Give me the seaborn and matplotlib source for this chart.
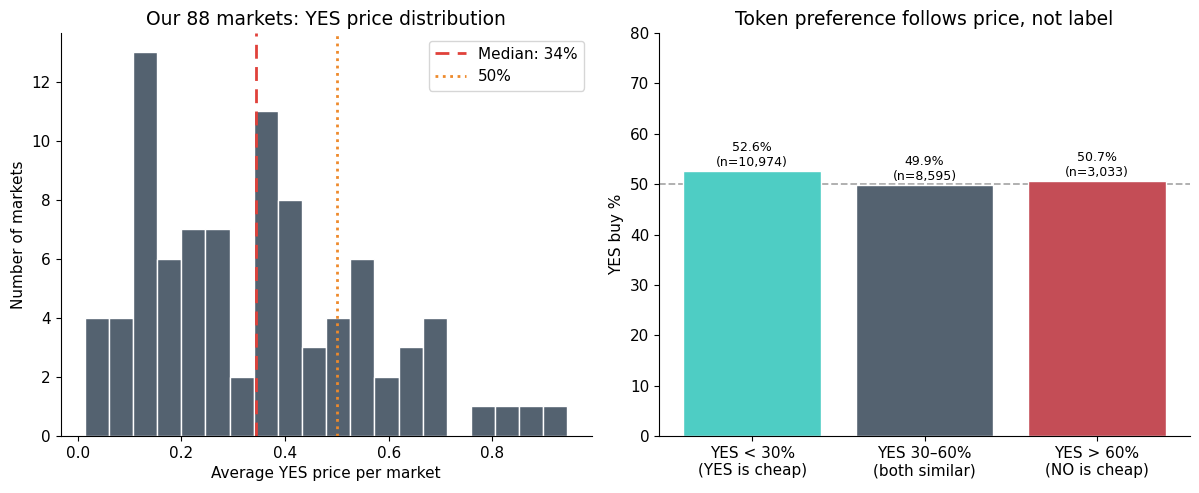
import numpy as np
import pandas as pd
import matplotlib
matplotlib.use("Agg")
import matplotlib.pyplot as plt
import seaborn as sns

# ---- Data ----
bin_min = 0.0134
bin_max = 0.945
hist_counts = [4, 4, 13, 6, 7, 7, 2, 11, 8, 3, 4, 6, 2, 3, 4, 0, 1, 1, 1, 1]
median_price = 0.343
ref_price = 0.5

groups = ["YES < 30%\n(YES is cheap)", "YES 30\u201360%\n(both similar)", "YES > 60%\n(NO is cheap)"]
yes_buy_pct = [52.6, 49.9, 50.7]
group_n = [10974, 8595, 3033]
group_colors = ["#4ECDC4", "#546270", "#C44D56"]

sns.set_style("ticks", rc={"text.color": "black", "axes.labelcolor": "black",
                           "xtick.color": "black", "ytick.color": "black",
                           "axes.edgecolor": "black"})
plt.rcParams['font.family'] = ['DejaVu Sans']

fig, axes = plt.subplots(1, 2, figsize=(11.99, 4.93), dpi=100)
fig.subplots_adjust(left=0.0506, right=0.9925, top=0.933, bottom=0.1156, wspace=0.127)

# ---- Left: histogram ----
ax = axes[0]
nb = len(hist_counts)
edges = np.linspace(bin_min, bin_max, nb + 1)
centers = (edges[:-1] + edges[1:]) / 2
df_h = pd.DataFrame({"price": centers, "count": np.array(hist_counts, dtype=float)})
sns.histplot(data=df_h, x="price", weights="count", bins=nb, binrange=(bin_min, bin_max), ax=ax,
             color="#546270", alpha=1.0, edgecolor="white", linewidth=1)
ax.axvline(median_price, color="#E0413A", linestyle=(0, (5, 3)), linewidth=2,
           label=f"Median: {median_price*100:.0f}%")
ax.axvline(ref_price, color="#EE8A2B", linestyle=":", linewidth=2, label="50%")
ax.set_title("Our 88 markets: YES price distribution", fontsize=13.5)
ax.set_xlabel("Average YES price per market", fontsize=11)
ax.set_ylabel("Number of markets", fontsize=11)
ax.tick_params(labelsize=11)
ax.legend(fontsize=11, loc="upper right")
sns.despine(ax=ax)

# ---- Right: bars ----
ax2 = axes[1]
df_b = pd.DataFrame({"group": groups, "pct": yes_buy_pct})
sns.barplot(data=df_b, x="group", y="pct", hue="group", palette=group_colors,
            legend=False, ax=ax2, width=0.8, saturation=1)
ax2.axhline(50, color="#AAAAAA", linestyle="--", linewidth=1.3, zorder=0.5)
for i, (p, n) in enumerate(zip(yes_buy_pct, group_n)):
    ax2.text(i, p + 0.4, f"{p:.1f}%\n(n={n:,})", ha="center", va="bottom", fontsize=9)
ax2.set_ylim(0, 80)
ax2.set_xlim(-0.54, len(groups) - 1 + 0.54)
ax2.set_title("Token preference follows price, not label", fontsize=13.5)
ax2.set_xlabel("")
ax2.set_ylabel("YES buy %", fontsize=11)
ax2.tick_params(labelsize=11)
sns.despine(ax=ax2)

fig.savefig("out.png", dpi=100)
